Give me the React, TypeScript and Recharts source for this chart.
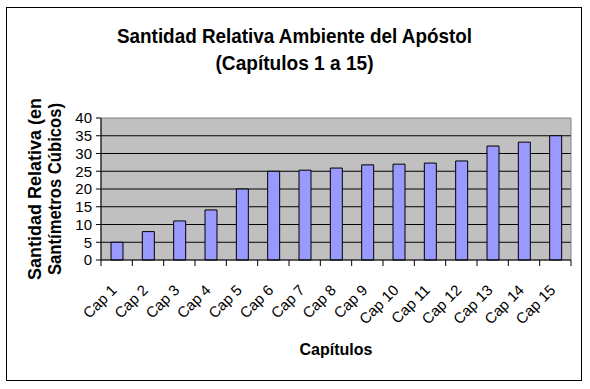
import React from 'react';
import { BarChart, Bar, XAxis, YAxis, CartesianGrid, ReferenceArea } from 'recharts';

// valores
const categories = ['Cap 1', 'Cap 2', 'Cap 3', 'Cap 4', 'Cap 5', 'Cap 6', 'Cap 7', 'Cap 8', 'Cap 9', 'Cap 10', 'Cap 11', 'Cap 12', 'Cap 13', 'Cap 14', 'Cap 15'];
const santidad = [5, 8, 11, 14.1, 20, 25, 25.3, 25.9, 26.8, 27, 27.3, 27.9, 32.1, 33.2, 35];
const yTicks = [0, 5, 10, 15, 20, 25, 30, 35, 40];
const gridValues = [5, 10, 15, 20, 25, 30, 35];

const titleLine1 = 'Santidad Relativa Ambiente del Apóstol';
const titleLine2 = '(Capítulos 1 a 15)';
const yTitle1 = 'Santidad Relativa (en';
const yTitle2 = 'Santímetros Cúbicos)';
const xTitle = 'Capítulos';

const data = categories.map((cap, i) => ({ cap, value: santidad[i] }));

const W = 590;
const H = 389;
const FONT = '"Liberation Sans", Arial, sans-serif';
const margin = { top: 118, right: 19, left: 0, bottom: 0 };
const yAxisWidth = 101;
const xAxisHeight = 129;
const plotWidth = W - yAxisWidth - margin.right;
const halfBand = plotWidth / categories.length / 2;

const CapTick = (props: any) => {
  const { x, y, payload, index } = props;
  const tx = x + 1;
  const ty = y + 31;
  return (
    <g>
      {index === 0 && <line x1={x - halfBand} x2={x - halfBand} y1={y} y2={y + 6} stroke="#000" />}
      <line x1={x + halfBand} x2={x + halfBand} y1={y} y2={y + 6} stroke="#000" />
      <text
        x={tx}
        y={ty}
        transform={`rotate(-45, ${tx}, ${ty})`}
        textAnchor="end"
        fontSize={15}
        fontFamily={FONT}
        fill="#000"
      >
        {payload.value}
      </text>
    </g>
  );
};

export default function App() {
  return (
    <div style={{ position: 'absolute', left: 0, top: 0, width: W, height: H, background: '#fff' }}>
      <BarChart width={W} height={H} data={data} margin={margin} barSize={12}>
        <CartesianGrid vertical={false} stroke="#000" fill="#C0C0C0" horizontalValues={gridValues} />
        <ReferenceArea y1={0} y2={40} stroke="#808080" fill="none" />
        <XAxis
          dataKey="cap"
          height={xAxisHeight}
          interval={0}
          axisLine={{ stroke: '#000' }}
          tickLine={false}
          tickSize={0}
          tickMargin={0}
          tick={<CapTick />}
        />
        <YAxis
          width={yAxisWidth}
          domain={[0, 40]}
          ticks={yTicks}
          interval={0}
          axisLine={{ stroke: '#000' }}
          tickLine={{ stroke: '#000' }}
          tickSize={5}
          tickMargin={4}
          tick={{ fontSize: 15, fill: '#000', fontFamily: FONT }}
        />
        <Bar dataKey="value" fill="#9999FF" stroke="#000" strokeWidth={1} isAnimationActive={false} />
      </BarChart>
      <svg width={W} height={H} style={{ position: 'absolute', left: 0, top: 0, pointerEvents: 'none' }}>
        <rect x={6.5} y={7.5} width={575} height={373} fill="none" stroke="#000" />
        <g fontFamily={FONT} fontWeight="bold" fill="#000" textAnchor="middle">
          <text x={294.5} y={43} fontSize={21} textLength={355} lengthAdjust="spacingAndGlyphs">{titleLine1}</text>
          <text x={294.5} y={70} fontSize={21} textLength={158} lengthAdjust="spacingAndGlyphs">{titleLine2}</text>
          <text x={41} y={189} fontSize={18} transform="rotate(-90, 41, 189)" textLength={182} lengthAdjust="spacingAndGlyphs">{yTitle1}</text>
          <text x={61} y={189} fontSize={18} transform="rotate(-90, 61, 189)" textLength={172} lengthAdjust="spacingAndGlyphs">{yTitle2}</text>
          <text x={336} y={355} fontSize={16}>{xTitle}</text>
        </g>
      </svg>
    </div>
  );
}
